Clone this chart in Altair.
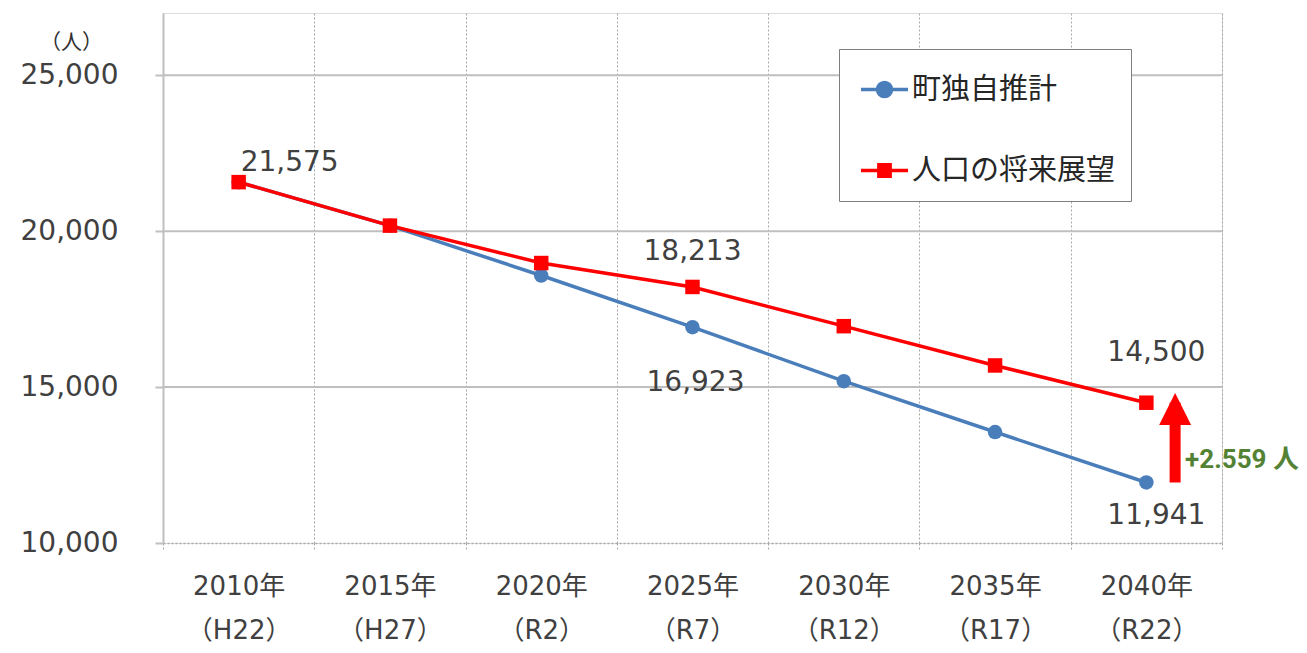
import altair as alt
import pandas as pd

# ---- data ----
years = ["2010年", "2015年", "2020年", "2025年", "2030年", "2035年", "2040年"]
eras = ["（H22）", "（H27）", "（R2）", "（R7）", "（R12）", "（R17）", "（R22）"]
own = [21575, 20180, 18580, 16923, 15190, 13560, 11941]       # 町独自推計
vision = [21575, 20180, 18980, 18213, 16955, 15695, 14500]    # 人口の将来展望
series = ["町独自推計", "人口の将来展望"]
colors = ["#4a7ebb", "#ff0000"]
y_ticks = [10000, 15000, 20000, 25000]
grid_values = [15000, 20000, 25000]
gap_text = "+2.559 人"
unit_title = "（人）"

FONT = "'DejaVu Sans', 'Noto Sans CJK JP', sans-serif"
CJK = "'Noto Sans CJK JP', sans-serif"

cats = [f"{y}|{e}" for y, e in zip(years, eras)]
rows = []
for i, c in enumerate(cats):
    rows.append({"cat": c, "series": series[0], "value": own[i]})
    rows.append({"cat": c, "series": series[1], "value": vision[i]})
df = pd.DataFrame(rows)

arrow_df = pd.DataFrame({"cat": [cats[-1]], "lo": [own[-1]], "hi": [vision[-1]], "label": [gap_text]})

xscale = alt.Scale(type="band", paddingInner=0, paddingOuter=0)
yscale = alt.Scale(domain=[10000, 27000], nice=False, zero=False)

x_axis = alt.Axis(
    title=None, labelExpr="split(datum.label, '|')", labelAngle=0,
    labelFont=FONT, labelFontSize=26, labelLineHeight=44, labelColor="#404040",
    labelPadding=22, tickBand="extent", grid=True, gridDash=[2, 2], gridColor="#a6a6a6",
    gridWidth=1, domainDash=[2, 2], domainColor="#a6a6a6", domainWidth=1.5,
    tickDash=[2, 2], tickColor="#a6a6a6", tickSize=8,
)
y_axis = alt.Axis(
    values=y_ticks, format=",.0f", grid=False, tickSize=8, tickColor="#bfbfbf", tickWidth=2,
    domainColor="#bfbfbf", domainWidth=2, labelFont=FONT, labelFontSize=28,
    labelColor="#404040", labelPadding=37,
    titleAngle=0, titleX=-92, titleY=29, titleAlign="center", titleBaseline="middle",
    titleFont=CJK, titleFontSize=21, titleFontWeight="normal", titleColor="#303030",
)


def xb(pos=None):
    if pos is None:
        return alt.X("cat:N", sort=cats, scale=xscale, axis=x_axis)
    return alt.X("cat:N", sort=cats, scale=xscale, axis=x_axis, bandPosition=pos)


def yb(field="value"):
    return alt.Y(f"{field}:Q", scale=yscale, axis=y_axis, title=unit_title)


base = alt.Chart(df)

# horizontal gridlines
grid_df = pd.DataFrame({"g": grid_values})
grid = alt.Chart(grid_df).mark_rule(color="#bfbfbf", strokeWidth=2).encode(y=yb("g"))

blue = base.transform_filter(alt.datum.series == series[0])
red = base.transform_filter(alt.datum.series == series[1])

blue_line = blue.mark_line(strokeWidth=3.5, color=colors[0]).encode(x=xb(), y=yb())
blue_pts = blue.mark_point(shape="circle", size=210, filled=True, opacity=1, color=colors[0]).encode(x=xb(), y=yb())
red_line = red.mark_line(strokeWidth=3.5, color=colors[1]).encode(x=xb(), y=yb())
red_pts = red.mark_point(shape="square", size=210, filled=True, opacity=1, color=colors[1]).encode(x=xb(), y=yb())

# legend-only layer (no marks drawn: filtered empty, legend from explicit domains)
paths = [
    "M-1,0H1M-0.3,0A0.3,0.3 0 1,0 0.3,0A0.3,0.3 0 1,0 -0.3,0Z",
    "M-1,0H1M-0.24,-0.24H0.24V0.24H-0.24Z",
]
legend = alt.Legend(
    title=None, orient="none", legendX=676, legendY=36, strokeColor="#7f7f7f",
    fillColor="white", padding=15, symbolSize=2209, symbolStrokeWidth=3.5,
    symbolOffset=5, labelFont=CJK, labelFontSize=29, labelColor="#262626", rowPadding=40,
    labelOffset=2, labelLimit=500,
)
legend_layer = base.transform_filter("false").mark_point(filled=True, opacity=1).encode(
    x=xb(), y=yb(),
    fill=alt.Fill("series:N", scale=alt.Scale(domain=series, range=colors), legend=legend),
    stroke=alt.Stroke("series:N", scale=alt.Scale(domain=series, range=colors), legend=legend),
    shape=alt.Shape("series:N", scale=alt.Scale(domain=series, range=paths), legend=legend),
)


def label(sub, idx, dx, dy):
    return sub.transform_filter(alt.datum.cat == cats[idx]).mark_text(
        dx=dx, dy=dy, font=FONT, fontSize=28, color="#404040"
    ).encode(x=xb(), y=yb(), text=alt.Text("value:Q", format=","))


labels = [
    label(red, 0, 51, -19),
    label(red, 3, 0, -35),
    label(red, 6, 10, -50),
    label(blue, 3, 3, 56),
    label(blue, 6, 10, 34),
]

arrow_base = alt.Chart(arrow_df)
arrow_shaft = arrow_base.mark_rule(color="#ff0000", strokeWidth=11).encode(
    x=xb(0.69), y=yb("lo"), y2="hi:Q")
arrow_head = arrow_base.mark_point(
    shape="M0,-0.6L-1,1.4L1,1.4Z", size=1024, filled=True, color="#ff0000", opacity=1
).encode(x=xb(0.69), y=yb("hi"))
arrow_text = arrow_base.transform_calculate(mid="(datum.lo + datum.hi) / 2").mark_text(
    align="left", baseline="middle", dx=10, dy=17, font="'Roboto', 'Noto Sans CJK JP'",
    fontWeight="bold", fontSize=26, color="#548235"
).encode(x=xb(0.69), y=yb("mid"), text="label:N")

chart = alt.layer(
    grid, blue_line, blue_pts, red_line, red_pts, legend_layer,
    *labels, arrow_shaft, arrow_head, arrow_text,
).properties(
    width=1059, height=530,
    autosize=alt.AutoSizeParams(type="none"),
    padding={"left": 155, "top": 5, "right": 77, "bottom": 102},
).configure_view(stroke=None).configure(background="white")

chart.save("out.html", embed_options={"renderer": "svg", "actions": False})
